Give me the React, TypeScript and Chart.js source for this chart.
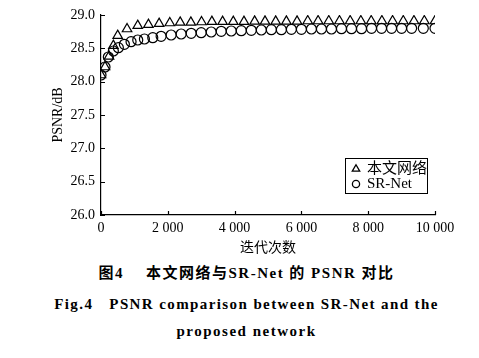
import React, { useEffect, useRef } from 'react';
import { Chart, registerables } from 'chart.js';

Chart.register(...registerables);

// ---- data ----
const xTickValues = [0, 2000, 4000, 6000, 8000, 10000];
const yTickValues = [26.0, 26.5, 27.0, 27.5, 28.0, 28.5, 29.0];

const oursLabel = '本文网络';
const oursX = [0, 120, 240, 370, 500, 780, 1100, 1420, 1740, 2060, 2370, 2690, 3010, 3320, 3640, 3960, 4280, 4600, 4910, 5230, 5550, 5870, 6190, 6500, 6820, 7140, 7460, 7780, 8090, 8410, 8730, 9050, 9370, 9680, 10000];
const oursY = [28.10, 28.22, 28.38, 28.54, 28.69, 28.79, 28.84, 28.855, 28.87, 28.88, 28.89, 28.89, 28.895, 28.90, 28.90, 28.90, 28.90, 28.905, 28.905, 28.905, 28.905, 28.905, 28.91, 28.91, 28.91, 28.91, 28.91, 28.91, 28.91, 28.91, 28.91, 28.91, 28.91, 28.91, 28.91];

const srLabel = 'SR-Net';
const srX = [0, 120, 220, 370, 520, 700, 900, 1100, 1300, 1550, 1800, 2100, 2400, 2700, 3000, 3300, 3600, 3900, 4200, 4500, 4800, 5100, 5400, 5700, 6000, 6300, 6600, 6900, 7200, 7500, 7800, 8100, 8400, 8700, 9000, 9300, 9650, 10000];
const srY = [28.10, 28.22, 28.37, 28.46, 28.51, 28.56, 28.60, 28.625, 28.64, 28.66, 28.68, 28.70, 28.715, 28.725, 28.735, 28.745, 28.755, 28.76, 28.765, 28.77, 28.775, 28.78, 28.78, 28.785, 28.785, 28.79, 28.79, 28.79, 28.795, 28.795, 28.795, 28.80, 28.80, 28.80, 28.80, 28.80, 28.80, 28.80];

const xTitle = '迭代次数';
const yTitle = 'PSNR/dB';
const caption1a = '图4';
const caption1b = '本文网络与SR-Net 的 PSNR 对比';
const caption2a = 'Fig.4';
const caption2b = 'PSNR comparison between SR-Net and the';
const caption3 = 'proposed network';

const SERIF = '"Liberation Serif", "Noto Sans CJK SC", serif';

function fmtThousands(v: number): string {
  const s = String(Math.round(v));
  return s.replace(/\B(?=(\d{3})+(?!\d))/g, ' ');
}

const innerTicks = {
  id: 'innerTicks',
  afterDraw(chart: any) {
    const { ctx, chartArea, scales } = chart;
    ctx.save();
    ctx.strokeStyle = '#000';
    ctx.lineWidth = 1.2;
    ctx.beginPath();
    for (const v of xTickValues) {
      const px = Math.round(scales.x.getPixelForValue(v)) + 0.5;
      ctx.moveTo(px, chartArea.bottom);
      ctx.lineTo(px, chartArea.bottom - 4);
    }
    for (const v of yTickValues) {
      const py = Math.round(scales.y.getPixelForValue(v)) + 0.5;
      ctx.moveTo(chartArea.left - 1, py);
      ctx.lineTo(chartArea.left + 4, py);
    }
    ctx.stroke();
    ctx.restore();
  },
};

const boxLegend = {
  id: 'boxLegend',
  afterDraw(chart: any) {
    const { ctx, chartArea } = chart;
    const left = chartArea.right - 90;
    const top = chartArea.bottom - 57;
    const w = 82;
    const h = 35;
    ctx.save();
    ctx.strokeStyle = '#000';
    ctx.lineWidth = 1;
    ctx.strokeRect(left + 0.5, top + 0.5, w, h);
    // triangle
    const tx = left + 11;
    const ty = top + 11;
    const r = 4.3;
    ctx.lineWidth = 1.3;
    ctx.beginPath();
    ctx.moveTo(tx, ty - r);
    ctx.lineTo(tx + r * 0.866, ty + r * 0.5);
    ctx.lineTo(tx - r * 0.866, ty + r * 0.5);
    ctx.closePath();
    ctx.stroke();
    // circle
    ctx.beginPath();
    ctx.arc(left + 11, top + 26, 3.6, 0, Math.PI * 2);
    ctx.stroke();
    ctx.fillStyle = '#000';
    ctx.textBaseline = 'middle';
    ctx.textAlign = 'left';
    ctx.font = '15px ' + SERIF;
    ctx.fillText(oursLabel, left + 22, top + 11);
    ctx.fillText(srLabel, left + 22, top + 26.5);
    ctx.restore();
  },
};

function PsnrChart() {
  const ref = useRef<HTMLCanvasElement>(null);
  useEffect(() => {
    const canvas = ref.current;
    if (!canvas) return;
    const tickFont = { family: SERIF, size: 14 };
    const chart = new Chart(canvas, {
      type: 'scatter',
      data: {
        datasets: [
          {
            label: srLabel,
            data: srX.map((x, i) => ({ x, y: srY[i] })),
            pointStyle: 'circle',
            pointRadius: 5,
            borderColor: '#000',
            backgroundColor: 'rgba(0,0,0,0)',
            borderWidth: 1.2,
            showLine: false,
          },
          {
            label: oursLabel,
            data: oursX.map((x, i) => ({ x, y: oursY[i] })),
            pointStyle: 'triangle',
            pointRadius: 5.5,
            borderColor: '#000',
            backgroundColor: 'rgba(0,0,0,0)',
            borderWidth: 1.2,
            showLine: false,
          },
        ],
      },
      options: {
        responsive: false,
        animation: false,
        devicePixelRatio: 1,
        layout: { padding: { left: 46, top: 15, right: 44, bottom: 0 } },
        plugins: { legend: { display: false }, tooltip: { enabled: false } },
        scales: {
          x: {
            type: 'linear',
            min: 0,
            max: 10000,
            afterBuildTicks: (s: any) => {
              s.ticks = xTickValues.map((v) => ({ value: v }));
            },
            ticks: {
              callback: (v: any) => fmtThousands(Number(v)),
              font: tickFont,
              color: '#000',
              padding: 5,
              maxRotation: 0,
              autoSkip: false,
            },
            grid: { display: true, drawOnChartArea: false, drawTicks: false },
            border: { display: true, color: '#000', width: 1.2 },
            title: {
              display: true,
              text: xTitle,
              font: { family: '"Noto Sans CJK SC", sans-serif', size: 14 },
              color: '#000',
              padding: { top: 0, bottom: 3 },
            },
            afterFit: (s: any) => {
              s.height = 43;
            },
          },
          y: {
            type: 'linear',
            min: 26,
            max: 29,
            afterBuildTicks: (s: any) => {
              s.ticks = yTickValues.map((v) => ({ value: v }));
            },
            ticks: {
              callback: (v: any) => Number(v).toFixed(1),
              font: tickFont,
              color: '#000',
              padding: 6,
              autoSkip: false,
            },
            grid: { display: true, drawOnChartArea: false, drawTicks: false },
            border: { display: true, color: '#000', width: 1.2 },
            title: {
              display: true,
              text: yTitle,
              font: { family: SERIF, size: 14 },
              color: '#000',
              padding: { top: 4, bottom: 0 },
            },
            afterFit: (s: any) => {
              s.width = 55;
            },
          },
        },
      },
      plugins: [innerTicks, boxLegend],
    } as any);
    return () => chart.destroy();
  }, []);
  return (
    <canvas
      ref={ref}
      width={479}
      height={258}
      style={{ position: 'absolute', left: 0, top: 0, width: 479, height: 258 }}
    />
  );
}

export default function App() {
  const capBase: React.CSSProperties = {
    position: 'absolute',
    left: 7,
    width: 479,
    textAlign: 'center',
    fontFamily: SERIF,
    fontWeight: 'bold',
    fontSize: 15,
    color: '#000',
    whiteSpace: 'pre',
    lineHeight: '18px',
  };
  return (
    <div style={{ position: 'absolute', left: 0, top: 0, width: 479, height: 358, background: '#fff', overflow: 'hidden' }}>
      <PsnrChart />
      <div style={{ ...capBase, top: 264, letterSpacing: 1.5 }}>
        <span style={{ marginRight: 22 }}>{caption1a}</span>
        {caption1b}
      </div>
      <div style={{ ...capBase, top: 295, letterSpacing: 1.4 }}>
        <span style={{ marginRight: 16 }}>{caption2a}</span>
        {caption2b}
      </div>
      <div style={{ ...capBase, top: 322, letterSpacing: 1.5 }}>{caption3}</div>
    </div>
  );
}
